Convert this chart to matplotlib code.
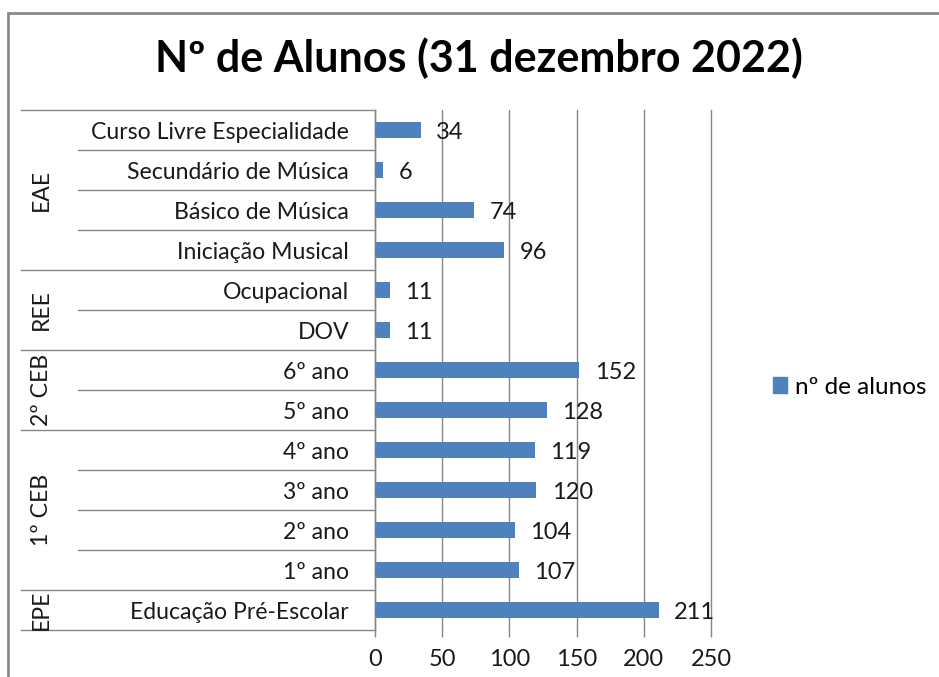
import matplotlib
matplotlib.use("Agg")
import matplotlib.pyplot as plt
import matplotlib.transforms as mtransforms
from matplotlib.patches import Rectangle
from matplotlib.lines import Line2D
import numpy as np

plt.rcParams['font.family'] = ['Lato', 'DejaVu Sans']

title = "Nº de Alunos (31 dezembro 2022)"
series_name = "nº de alunos"
groups = ["EAE", "REE", "2º CEB", "1º CEB", "EPE"]
group_sizes = [4, 2, 2, 4, 1]
categories = ["Curso Livre Especialidade", "Secundário de Música", "Básico de Música",
              "Iniciação Musical", "Ocupacional", "DOV", "6º ano", "5º ano",
              "4º ano", "3º ano", "2º ano", "1º ano", "Educação Pré-Escolar"]
values = [34, 6, 74, 96, 11, 11, 152, 128, 119, 120, 104, 107, 211]
xticks = [0, 50, 100, 150, 200, 250]

W, H = 939, 677
fig = plt.figure(figsize=(W / 100, H / 100), dpi=100)
fig.patch.set_facecolor("white")

L, R, T, B = 375, 711, 110, 630
ax = fig.add_axes([L / W, 1 - B / H, (R - L) / W, (B - T) / H])

bar_color = "#4F81BD"
grid_color = "#868686"
text_color = "#1a1a1a"
n = len(categories)
y = np.arange(n)
ax.barh(y, values, height=0.4, color=bar_color, zorder=3)
ax.set_ylim(n - 0.5, -0.5)
ax.set_xlim(0, 250)
ax.set_xticks(xticks)
ax.set_xticklabels([str(t) for t in xticks], fontsize=17, color=text_color)
ax.xaxis.grid(True, color=grid_color, linewidth=1.0, zorder=0)
for gl in ax.get_xgridlines():
    gl.set_clip_on(False)
ax.tick_params(axis='x', direction='out', length=5, width=1.0, color=grid_color, pad=9)
ax.set_yticks([])
for s in ["top", "right", "bottom"]:
    ax.spines[s].set_visible(False)
ax.spines["left"].set_color(grid_color)
ax.spines["left"].set_linewidth(1.0)

for yi, v in zip(y, values):
    ax.annotate(str(v), (v, yi), xytext=(11, -1.8), textcoords="offset points",
                ha="left", va="center", fontsize=17, color=text_color)

# multi-level category axis
trans = mtransforms.blended_transform_factory(fig.transFigure, ax.transData)
x_full = 21 / W
x_inner = 78 / W
x_axis = L / W
bounds = np.concatenate([[0], np.cumsum(group_sizes)])
for i in range(n + 1):
    xs = x_full if i in bounds else x_inner
    ax.add_line(Line2D([xs, x_axis], [i - 0.5, i - 0.5], transform=trans,
                       color=grid_color, linewidth=1.0, clip_on=False))
for yi, c in zip(y, categories):
    ax.text(349 / W, yi + 0.06, c, transform=trans, ha="right", va="center",
            fontsize=16.6, color=text_color)
for gi, g in enumerate(groups):
    yc = (bounds[gi] + bounds[gi + 1] - 1) / 2
    ax.text(41 / W, yc, g, transform=trans, ha="center", va="center",
            rotation=90, fontsize=16.6, color=text_color)

# title
fig.text(479 / W, 1 - 58 / H, title, ha="center", va="center",
         fontsize=31, fontweight="bold", color="black")

# legend
handle = Rectangle((0, 0), 1, 1, color=bar_color)
fig.legend([handle], [series_name], loc="center left",
           bbox_to_anchor=(751 / W, 1 - 387 / H), frameon=False,
           fontsize=17.5, handlelength=0.6, handleheight=0.6, handletextpad=0.3)

# chart border
fig.add_artist(Rectangle((8 / W, -0.1), 1.2, 1 - 13 / H + 0.1, transform=fig.transFigure,
                         fill=False, edgecolor="#8a8a8a", linewidth=2.0))

fig.savefig("out.png", dpi=100)
